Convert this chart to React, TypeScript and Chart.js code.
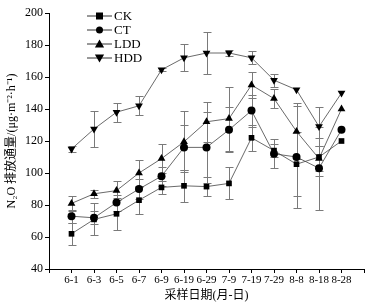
import React, { useEffect, useRef } from "react";
import { Chart, registerables } from "chart.js";

Chart.register(...registerables);

const labels = ["6-1", "6-3", "6-5", "6-7", "6-9", "6-19", "6-29", "7-9", "7-19", "7-29", "8-8", "8-18", "8-28"];
const seriesNames = ["CK", "CT", "LDD", "HDD"];
const CK = [62, 71, 74.5, 83, 91, 92, 91.5, 93.5, 122, 114, 105.5, 110, 120];
const CT = [73, 72, 81.5, 90, 98, 116, 116, 127, 139, 112, 110, 103, 127];
const LDD = [81, 87, 89, 100, 109, 119.5, 132, 134, 155, 146.5, 126, 109, 140];
const HDD = [115, 127.5, 138, 142, 164.5, 172, 175, 175, 172, 158, 152, 129, 150];
const CK_err = [7, 10, 10, 8.5, 4, 10, 6, 10, 8, 4, 20, 12, 0];
const CT_err = [4, 4, 5, 6, 6, 14, 22, 14, 10, 9, 32, 26, 0];
const LDD_err = [4.5, 2.5, 6, 8, 9, 19, 12.5, 20, 8, 6, 17.5, 8, 0];
const HDD_err = [2, 11, 6, 6, 1, 8.5, 13, 2, 4, 4, 0, 12, 0];
const yTicks = [40, 60, 80, 100, 120, 140, 160, 180, 200];

const serif = "'Liberation Serif', 'Noto Sans CJK SC', serif";

function drawMarker(ctx: CanvasRenderingContext2D, style: string, x: number, y: number, r: number) {
  ctx.beginPath();
  if (style === "rect") {
    ctx.rect(x - r, y - r, 2 * r, 2 * r);
  } else if (style === "circle") {
    ctx.arc(x, y, r, 0, Math.PI * 2);
  } else if (style === "up") {
    ctx.moveTo(x, y - r * 1.15);
    ctx.lineTo(x + r * 1.15, y + r * 0.85);
    ctx.lineTo(x - r * 1.15, y + r * 0.85);
    ctx.closePath();
  } else {
    ctx.moveTo(x, y + r * 1.15);
    ctx.lineTo(x + r * 1.15, y - r * 0.85);
    ctx.lineTo(x - r * 1.15, y - r * 0.85);
    ctx.closePath();
  }
  ctx.fillStyle = "#000";
  ctx.fill();
}

const markerStyles = ["rect", "circle", "up", "down"];

export default function App() {
  const ref = useRef<HTMLCanvasElement>(null);
  useEffect(() => {
    const values = [CK, CT, LDD, HDD];
    const errs = [CK_err, CT_err, LDD_err, HDD_err];

    const errorPlugin = {
      id: "errbars",
      beforeDatasetsDraw(chart: any) {
        const ctx = chart.ctx;
        const xs = chart.scales.x;
        const ys = chart.scales.y;
        ctx.save();
        ctx.strokeStyle = "#7a7a7a";
        ctx.lineWidth = 1;
        values.forEach((vals, si) => {
          vals.forEach((v, i) => {
            const e = errs[si][i];
            if (!e) return;
            const x = Math.round(xs.getPixelForValue(i + 1)) + 0.5;
            const yt = Math.round(ys.getPixelForValue(v + e)) + 0.5;
            const yb = Math.round(ys.getPixelForValue(v - e)) + 0.5;
            ctx.beginPath();
            ctx.moveTo(x, yt);
            ctx.lineTo(x, yb);
            ctx.moveTo(x - 4, yt);
            ctx.lineTo(x + 4, yt);
            ctx.moveTo(x - 4, yb);
            ctx.lineTo(x + 4, yb);
            ctx.stroke();
          });
        });
        ctx.restore();
      },
    };

    const legendPlugin = {
      id: "customLegend",
      afterDraw(chart: any) {
        const ctx = chart.ctx;
        ctx.save();
        seriesNames.forEach((name, i) => {
          const y = 16 + i * 14;
          ctx.strokeStyle = "#333";
          ctx.lineWidth = 1;
          ctx.beginPath();
          ctx.moveTo(87, y);
          ctx.lineTo(112, y);
          ctx.stroke();
          drawMarker(ctx, markerStyles[i], 99.5, y, i >= 2 ? 4 : 3.5);
          ctx.fillStyle = "#000";
          ctx.font = "13px " + serif;
          ctx.textBaseline = "middle";
          ctx.textAlign = "left";
          ctx.fillText(name, 114, y + 0.5);
        });
        ctx.restore();
      },
    };

    const pointStyles: any[] = ["rect", "circle", "triangle", "triangle"];
    const chart = new Chart(ref.current!, {
      type: "line",
      data: {
        datasets: values.map((vals, si) => ({
          label: seriesNames[si],
          data: vals.map((v, i) => ({ x: i + 1, y: v })),
          borderColor: "#444",
          borderWidth: 0.8,
          pointStyle: pointStyles[si],
          rotation: si === 3 ? 180 : 0,
          pointRadius: si >= 2 ? 4.5 : 4,
          pointBackgroundColor: "#000",
          pointBorderColor: "#000",
          pointBorderWidth: 0,
          tension: 0,
        })),
      },
      options: {
        animation: false,
        responsive: false,
        events: [],
        layout: { padding: { left: 0, right: 17, top: 13, bottom: 0 } },
        plugins: { legend: { display: false }, tooltip: { enabled: false } },
        scales: {
          x: {
            type: "linear",
            min: 0,
            max: 14,
            afterBuildTicks(scale: any) {
              scale.ticks = Array.from({ length: 15 }, (_, i) => ({ value: i }));
            },
            afterFit(scale: any) {
              scale.height = 35;
            },
            ticks: {
              autoSkip: false,
              maxRotation: 0,
              minRotation: 0,
              padding: 1,
              color: "#000",
              font: { family: serif, size: 11 },
              callback: (v: any) => labels[Number(v) - 1] ?? "",
            },
            grid: { drawOnChartArea: false, drawTicks: true, tickLength: 4, color: "#000" },
            border: { display: true, color: "#000", width: 1 },
            title: {
              display: true,
              text: "采样日期(月-日)",
              color: "#000",
              font: { family: serif, size: 12 },
              padding: { top: 0, bottom: 1 },
            },
          },
          y: {
            type: "linear",
            min: 40,
            max: 200,
            afterBuildTicks(scale: any) {
              scale.ticks = yTicks.map((v) => ({ value: v }));
            },
            afterFit(scale: any) {
              scale.width = 49;
            },
            ticks: {
              color: "#000",
              padding: 2,
              font: { family: serif, size: 12 },
            },
            grid: { drawOnChartArea: false, drawTicks: true, tickLength: 4, color: "#000" },
            border: { display: true, color: "#000", width: 1 },
            title: {
              display: true,
              text: "N₂O 排放通量/(μg·m⁻²·h⁻¹)",
              color: "#000",
              font: { family: serif, size: 12 },
              padding: { top: 5, bottom: 0 },
            },
          },
        },
      },
      plugins: [errorPlugin, legendPlugin],
    });
    return () => chart.destroy();
  }, []);

  return (
    <div style={{ position: "fixed", left: 0, top: 0, width: 381, height: 304, background: "#fff" }}>
      <canvas ref={ref} width={381} height={304} style={{ width: 381, height: 304 }} />
    </div>
  );
}
